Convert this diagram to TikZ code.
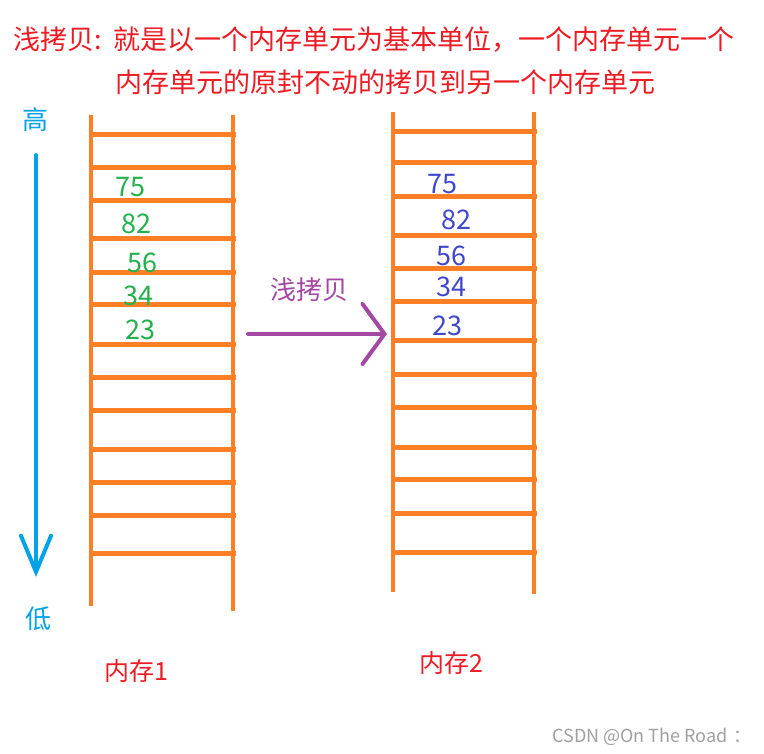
\documentclass[tikz,border=0pt]{standalone}
\usepackage{fontspec}
\setmainfont{Noto Sans CJK SC}
\usetikzlibrary{arrows.meta}
\definecolor{ladder}{RGB}{255,127,39}
\definecolor{numgreen}{RGB}{34,177,76}
\definecolor{numblue}{RGB}{63,72,204}
\definecolor{titlered}{RGB}{237,28,36}
\definecolor{copypurple}{RGB}{163,73,164}
\definecolor{skyblue}{RGB}{0,162,232}
\definecolor{markgray}{RGB}{160,160,160}
\tikzset{
  rail/.style={ladder, line width=4.5pt},
  rung/.style={ladder, line width=5pt},
  txt/.style={inner sep=0pt, font=\fontsize{#1}{#1}\selectfont},
  greennum/.style={txt=27pt, text=numgreen},
  bluenum/.style={txt=27pt, text=numblue},
  redtxt/.style={txt=27pt, text=titlered, anchor=west},
  memlabel/.style={txt=25pt, text=titlered},
  dirlabel/.style={txt=26pt, text=skyblue},
}
\begin{document}
\begin{tikzpicture}[x=1pt,y=-1pt]
\useasboundingbox[fill=white] (0,0) rectangle (764,754);
% title
\node[redtxt] (t1) at (13,40) {浅拷贝:\hspace{12pt}就是以一个内存单元为基本单位，一个内存单元一个};
\node[redtxt] (t2) at (115,82) {内存单元的原封不动的拷贝到另一个内存单元};
% left ladder
\draw[rail] (91,115) -- (91,606);
\draw[rail] (233,115) -- (233,611);
\foreach \y in {135,168,201,239,273,305,345,378,411,449,482,515,553}
  \draw[rung] (89,\y) -- (236,\y);
% right ladder
\draw[rail] (393,112) -- (393,592);
\draw[rail] (534,112) -- (534,594);
\foreach \y in {132,163,197,236,269,302,341,375,408,447,479,513,552}
  \draw[rung] (391,\y) -- (537,\y);
% numbers
\node[greennum] (l75) at (130,187) {75};
\node[greennum] (l82) at (136,224) {82};
\node[greennum] (l56) at (142,263) {56};
\node[greennum] (l34) at (138,296) {34};
\node[greennum] (l23) at (140,330) {23};
\node[bluenum] (r75) at (442,184) {75};
\node[bluenum] (r82) at (456,220) {82};
\node[bluenum] (r56) at (451,256) {56};
\node[bluenum] (r34) at (451,287) {34};
\node[bluenum] (r23) at (447,326) {23};
% copy arrow
\node[txt=26pt, text=copypurple] (copylbl) at (309,290) {浅拷贝};
\coordinate (cs) at (248,334);
\coordinate (ce) at (387,334);
\draw[copypurple, line width=4pt, line cap=round,
  -{Straight Barb[length=22pt, width=60pt, line cap=round]}] (cs) -- (ce);
% direction arrow
\node[dirlabel] (high) at (36,120) {高};
\node[dirlabel] (low) at (39,619) {低};
\coordinate (ds) at (36,155);
\coordinate (de) at (36,577);
\draw[skyblue, line width=4pt, line cap=round,
  -{Straight Barb[length=36pt, width=30pt, line cap=round]}] (ds) -- (de);
% memory labels
\node[memlabel] (m1) at (136,671) {内存1};
\node[memlabel] (m2) at (451,663) {内存2};
% watermark
\node[txt=18pt, text=markgray, anchor=east] (wm) at (752,737) {CSDN @On The Road\hspace{6pt}：};
\end{tikzpicture}
\end{document}
